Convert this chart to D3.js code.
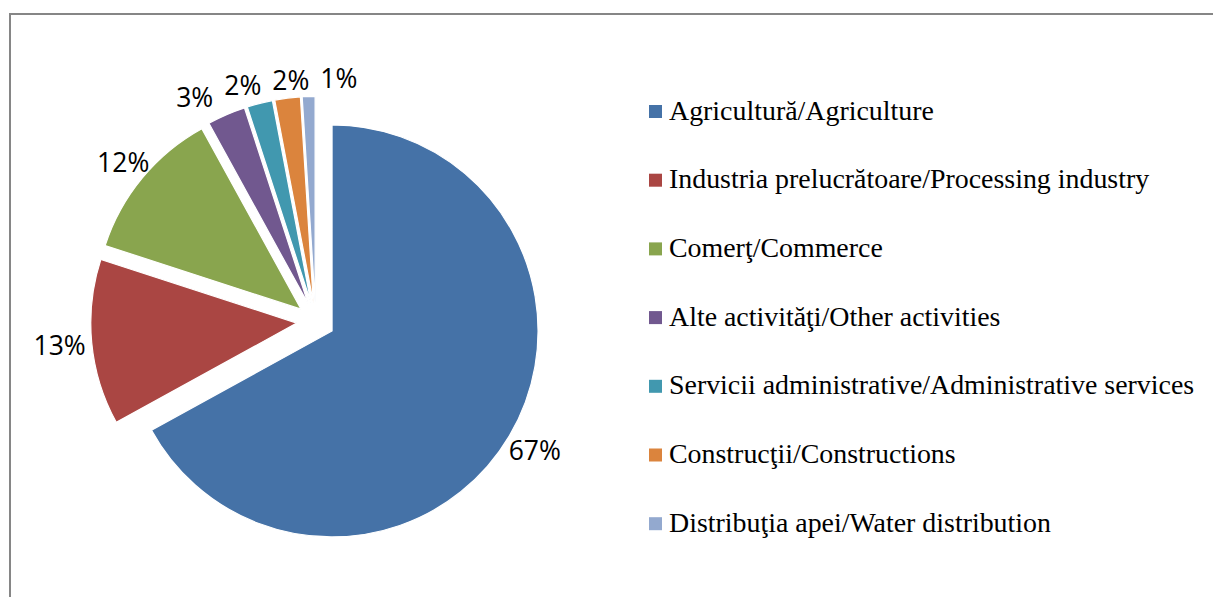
<!DOCTYPE html>
<html>
<head>
<meta charset="utf-8">
<script src="https://cdn.jsdelivr.net/npm/d3@7"></script>
<style>
    body { margin: 0; background: #fff; }
    svg { display: block; }
</style>
</head>
<body>
<div id="container"></div>
<script>
'use strict';
(function() {
    // data
    var categories = [
        'Agricultură/Agriculture',
        'Industria prelucrătoare/Processing industry',
        'Comerţ/Commerce',
        'Alte activităţi/Other activities',
        'Servicii administrative/Administrative services',
        'Construcţii/Constructions',
        'Distribuţia apei/Water distribution'
    ];
    var shares = [67, 13, 12, 3, 2, 2, 1];
    var colors = ['#4572A7', '#AA4643', '#89A54E', '#71588F', '#4198AF', '#DB843D', '#93A9CF'];

    var width = 1213, height = 597;
    var cx = 315.7, cy = 321.3;
    var radius = 206, explode = 19, labelGap = 6;

    var svg = d3.select('#container').append('svg')
        .attr('width', width)
        .attr('height', height);

    // chart area frame (right / bottom edges fall outside the picture)
    svg.append('rect')
        .attr('x', 10)
        .attr('y', 14)
        .attr('width', width + 20)
        .attr('height', height + 20)
        .attr('fill', 'none')
        .attr('stroke', '#868686')
        .attr('stroke-width', 2);

    var pie = d3.pie().sort(null).value(function(d) { return d; });
    var arcs = pie(shares);

    var arc = d3.arc().innerRadius(0).outerRadius(radius);

    function dirOf(d) {
        var a = (d.startAngle + d.endAngle) / 2;
        return [Math.sin(a), -Math.cos(a)];
    }

    var pieG = svg.append('g').attr('transform', 'translate(' + cx + ',' + cy + ')');

    pieG.selectAll('path.slice')
        .data(arcs)
        .enter().append('path')
        .attr('class', 'slice')
        .attr('d', arc)
        .attr('transform', function(d) {
            var v = dirOf(d);
            return 'translate(' + (v[0] * explode) + ',' + (v[1] * explode) + ')';
        })
        .attr('fill', function(d, i) { return colors[i]; })
        .attr('stroke', '#fff')
        .attr('stroke-width', 1.2);

    // data labels, outside end
    var labels = pieG.selectAll('text.lbl')
        .data(arcs)
        .enter().append('text')
        .attr('class', 'lbl')
        .attr('text-anchor', 'middle')
        .style('font-family', "'Open Sans', sans-serif")
        .style('font-size', '26.5px')
        .attr('fill', '#000')
        .text(function(d) { return d.data + '%'; });

    var boxes = [];
    labels.each(function(d) {
        var w = this.getComputedTextLength();
        var hw = w / 2, hh = 12;
        var v = dirOf(d);
        var R = radius + explode + labelGap;
        var t = Math.min(Math.abs(v[0]) > 1e-6 ? hw / Math.abs(v[0]) : 1e9,
                         Math.abs(v[1]) > 1e-6 ? hh / Math.abs(v[1]) : 1e9);
        boxes.push({ x: v[0] * (R + t), y: v[1] * (R + t), w: w, h: hh * 2 });
    });

    // push overlapping labels apart sideways
    var pad = 11;
    for (var it = 0; it < 200; it++) {
        for (var i = 0; i < boxes.length; i++) {
            for (var j = i + 1; j < boxes.length; j++) {
                var a = boxes[i], b = boxes[j];
                var ox = (a.w + b.w) / 2 + pad - Math.abs(a.x - b.x);
                var oy = (a.h + b.h) / 2 - Math.abs(a.y - b.y);
                if (ox > 0 && oy > 0) {
                    var s = a.x < b.x ? -1 : 1;
                    a.x += s * ox / 4;
                    b.x -= s * ox / 4;
                }
            }
        }
    }

    labels
        .attr('x', function(d, i) { return boxes[i].x; })
        .attr('y', function(d, i) { return boxes[i].y + 9.5; });

    // legend
    var legendX = 649, legendTop = 111.5, legendStep = 68.7;
    var legend = svg.append('g').attr('class', 'legend');
    var rows = legend.selectAll('g')
        .data(categories)
        .enter().append('g')
        .attr('transform', function(d, i) {
            return 'translate(' + legendX + ',' + (legendTop + i * legendStep) + ')';
        });
    rows.append('rect')
        .attr('x', 0)
        .attr('y', -6.5)
        .attr('width', 13)
        .attr('height', 13)
        .attr('fill', function(d, i) { return colors[i]; });
    rows.append('text')
        .attr('x', 20)
        .attr('y', 8)
        .style('font-family', "'Liberation Serif', 'Times New Roman', serif")
        .style('font-size', '27.9px')
        .attr('fill', '#000')
        .text(function(d) { return d; });
})();
</script>
</body>
</html>
